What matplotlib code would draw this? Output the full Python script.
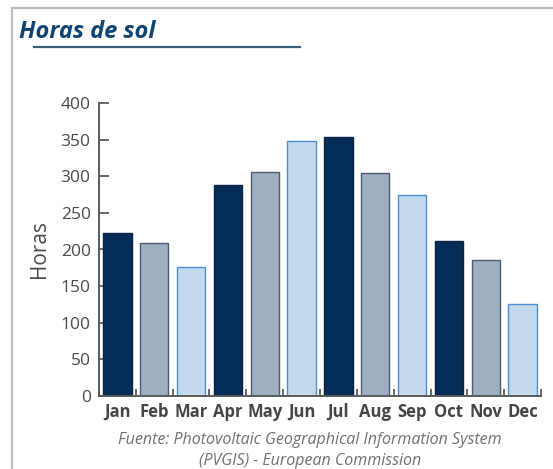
import matplotlib
matplotlib.use("Agg")
import matplotlib.pyplot as plt
from matplotlib.lines import Line2D
import numpy as np

# Data
months = ["Jan", "Feb", "Mar", "Apr", "May", "Jun",
          "Jul", "Aug", "Sep", "Oct", "Nov", "Dec"]
horas = [222, 209, 176, 288, 306, 348, 354, 304, 274, 211, 186, 126]
y_ticks = [0, 50, 100, 150, 200, 250, 300, 350, 400]

# three-tone palette repeating every 3 months
fills = ["#062d57", "#9eafc4", "#c2d9ee"]
edges = ["#0a2440", "#4d5c6c", "#4a8fd0"]

W, H = 553, 469
fig = plt.figure(figsize=(W / 100, H / 100), dpi=100)

# light frame (top + left only, the rest is cropped out)
frame_kw = dict(color="#bdbdbd", linewidth=1.6, transform=fig.transFigure)
fig.add_artist(Line2D([11.5 / W, 1], [1 - 8.5 / H, 1 - 8.5 / H], **frame_kw))
fig.add_artist(Line2D([11.5 / W, 11.5 / W], [0, 1 - 8.5 / H], **frame_kw))

# title + underline
fig.text(19 / W, 1 - 32 / H, "Horas de sol", fontsize=17, fontweight="bold",
         fontstyle="italic", color="#0d4471", family="Open Sans",
         va="center", ha="left")
fig.add_artist(Line2D([34 / W, 300 / W], [1 - 47 / H, 1 - 47 / H],
                      color="#3c5c7c", linewidth=1.6, transform=fig.transFigure))

ax = fig.add_axes([99 / W, (H - 396) / H, (541 - 99) / W, (396 - 103) / H])

x = np.arange(len(months))
for i, v in enumerate(horas):
    ax.bar(x[i], v, width=0.77, color=fills[i % 3], edgecolor=edges[i % 3],
           linewidth=1.0, zorder=2)

ax.set_xlim(-0.5, len(months) - 0.5)
ax.set_ylim(0, 400)

for side in ("top", "right"):
    ax.spines[side].set_visible(False)
for side in ("left", "bottom"):
    ax.spines[side].set_color("#5a5a5a")
    ax.spines[side].set_linewidth(1.4)

ax.set_yticks(y_ticks)
ax.set_yticklabels([str(t) for t in y_ticks], fontsize=12.5, color="#4a4a4a",
                   family="Open Sans")
ax.tick_params(axis="y", direction="in", length=7, width=1.3, color="#5a5a5a", pad=6)

# month labels at centers, tick marks at boundaries
ax.set_xticks(x)
ax.set_xticklabels(months, fontsize=12, fontweight="bold", color="#454545",
                   family="Open Sans")
ax.tick_params(axis="x", length=0, pad=5)
ax.set_xticks(np.arange(-0.5, len(months)), minor=True)
ax.tick_params(axis="x", which="minor", direction="in", length=5, width=1.3,
               color="#5a5a5a")

ax.set_ylabel("Horas", fontsize=15, color="#4a4a4a", family="Open Sans", labelpad=8)

# source note
note_kw = dict(fontsize=11.5, fontstyle="italic", color="#707070", family="Open Sans",
               ha="center", va="center")
fig.text(310 / W, 1 - 440 / H, "Fuente: Photovoltaic Geographical Information System",
         **note_kw)
fig.text(310 / W, 1 - 461 / H, "(PVGIS) - European Commission", **note_kw)

fig.savefig("out.png", dpi=100, facecolor="white")
plt.close(fig)
